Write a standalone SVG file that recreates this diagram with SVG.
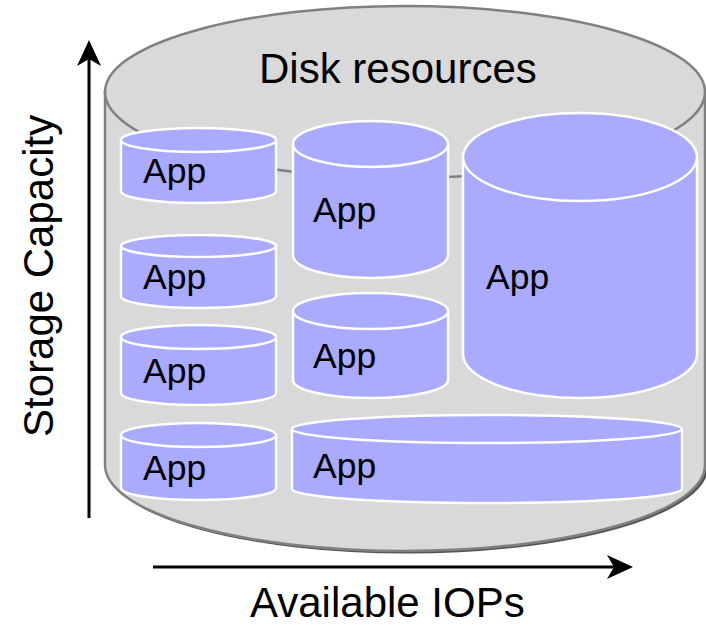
<svg xmlns="http://www.w3.org/2000/svg" width="706" height="625" viewBox="0 0 706 625">
<style>
.big{fill:#d9d9d9;stroke:#808080;stroke-width:2.5}
.app{fill:#aaaaff;stroke:#ffffff;stroke-width:2.5}
.lbl{font-family:"Liberation Sans",Arial,sans-serif;fill:#000}
.app-t{font-size:35.5px}
.t42{font-size:42px}
.axis{stroke:#000;stroke-width:3;fill:none}
</style>
<defs>
<marker id="arr" viewBox="0 0 26 24" refX="7" refY="12" markerWidth="26" markerHeight="24" markerUnits="userSpaceOnUse" orient="auto">
<path d="M0,0 L26,12 L0,24 L7,12 z" fill="#000"/>
</marker>
</defs>
<g id="disk">
<path d="M106,465 A300,86 0 0 0 706,465" fill="none" stroke="#555" stroke-width="3" transform="translate(1,1)"/>
<path class="big" d="M105,92 L105,465 A300,86 0 0 0 705,465 L705,92 Z"/>
<ellipse class="big" cx="405" cy="92" rx="300" ry="86"/>
<text class="lbl t42" x="259" y="83">Disk resources</text>
</g>
<g id="app1">
<path class="app" d="M121,140 L121,191 A77.5,12 0 0 0 276,191 L276,140"/>
<ellipse class="app" cx="198.5" cy="140" rx="77.5" ry="12"/>
<text class="lbl app-t" x="143" y="183">App</text>
</g>
<g id="app2">
<path class="app" d="M121,246 L121,296 A77.5,12 0 0 0 276,296 L276,246"/>
<ellipse class="app" cx="198.5" cy="246" rx="77.5" ry="11"/>
<text class="lbl app-t" x="143" y="289">App</text>
</g>
<g id="app3">
<path class="app" d="M121,337 L121,393 A77.5,12 0 0 0 276,393 L276,337"/>
<ellipse class="app" cx="198.5" cy="337" rx="77.5" ry="12"/>
<text class="lbl app-t" x="143" y="383">App</text>
</g>
<g id="app4">
<path class="app" d="M121,435 L121,488 A77.5,12 0 0 0 276,488 L276,435"/>
<ellipse class="app" cx="198.5" cy="435" rx="77.5" ry="12"/>
<text class="lbl app-t" x="143" y="480">App</text>
</g>
<g id="app5">
<path class="app" d="M293,144 L293,255 A77.5,23 0 0 0 448,255 L448,144"/>
<ellipse class="app" cx="370.5" cy="144" rx="77.5" ry="23"/>
<text class="lbl app-t" x="313" y="222">App</text>
</g>
<g id="app6">
<path class="app" d="M293,311 L293,380 A77.5,18 0 0 0 448,380 L448,311"/>
<ellipse class="app" cx="370.5" cy="311" rx="77.5" ry="18"/>
<text class="lbl app-t" x="313" y="368">App</text>
</g>
<g id="app7">
<path class="app" d="M463,157 L463,354 A117,44 0 0 0 697,354 L697,157"/>
<ellipse class="app" cx="580" cy="157" rx="117" ry="44"/>
<text class="lbl app-t" x="486" y="289">App</text>
</g>
<g id="app8">
<path class="app" d="M292,429 L292,489 A195,14 0 0 0 682,489 L682,429"/>
<ellipse class="app" cx="487" cy="429" rx="195" ry="14"/>
<text class="lbl app-t" x="313" y="478">App</text>
</g>
<g id="connectors">
<line class="axis" x1="89" y1="518" x2="89" y2="59" marker-end="url(#arr)"/>
<line class="axis" x1="153" y1="567" x2="614" y2="567" marker-end="url(#arr)"/>
</g>
<g id="axis-labels">
<text class="lbl t42" x="250" y="617">Available IOPs</text>
<text class="lbl t42" transform="translate(53,437) rotate(-90)">Storage Capacity</text>
</g>
</svg>
